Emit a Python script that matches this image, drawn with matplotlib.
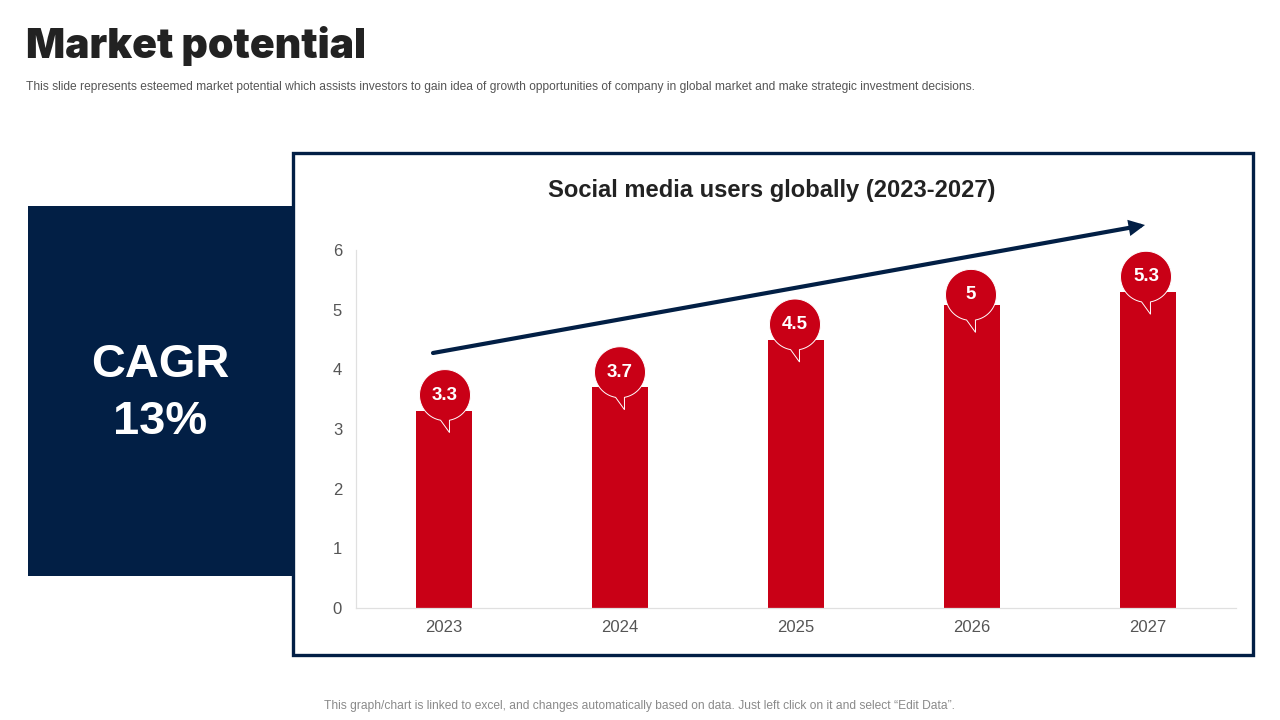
import numpy as np
import matplotlib
matplotlib.use("Agg")
import matplotlib.pyplot as plt
from matplotlib.patches import Rectangle, Polygon

plt.rcParams['font.family'] = ['Liberation Sans', 'DejaVu Sans']

years = ["2023", "2024", "2025", "2026", "2027"]
users = [3.3, 3.7, 4.5, 5.08, 5.3]
bubble_labels = ["3.3", "3.7", "4.5", "5", "5.3"]
# bubble centre relative to the bar top centre, in pixels
bubble_lift = [16, 15, 15, 10, 15]
bubble_shift = [1, 0, -1, -1, -2]
yticks = [0, 1, 2, 3, 4, 5, 6]

NAVY = "#021f45"
RED = "#c90016"
W, H = 1280, 720

fig = plt.figure(figsize=(W / 100, H / 100), dpi=100, facecolor="white")

# page layer in pixel coords, y going down
page = fig.add_axes([0, 0, 1, 1], zorder=0)
page.set_xlim(0, W)
page.set_ylim(H, 0)
page.axis("off")

page.text(26, 46.5, "Market potential", fontsize=29.5, family="Inter", weight="black",
          color="#222222", va="center", ha="left")
page.text(26, 87, "This slide represents esteemed market potential which assists investors to gain idea of "
          "growth opportunities of company in global market and make strategic investment decisions.",
          fontsize=8.66, color="#555555", va="center", ha="left")

# CAGR block and chart frame
page.add_patch(Rectangle((28, 206), 266, 370, facecolor=NAVY, edgecolor="none"))
page.add_patch(Rectangle((293, 153), 959.5, 501.5, facecolor="white", edgecolor=NAVY, linewidth=2.4))
page.text(160, 365, "CAGR", fontsize=33.8, weight="bold", color="white", ha="center", va="center")
page.text(160, 422, "13%", fontsize=33.8, weight="bold", color="white", ha="center", va="center")

page.text(772, 191, "Social media users globally (2023-2027)", fontsize=17.15, weight="bold",
          color="#222222", ha="center", va="center")
page.text(640, 706.5, "This graph/chart is linked to excel, and changes automatically based on data. "
          "Just left click on it and select \u201cEdit Data\u201d.",
          fontsize=8.64, color="#8a8a8a", ha="center", va="center")

# the chart itself
ax = fig.add_axes([356 / W, 1 - 608 / H, 880 / W, 358 / H], zorder=1)
ax.patch.set_alpha(0)
x = np.arange(len(years))
ax.bar(x, users, width=0.316, color=RED)
ax.set_xlim(-0.5, 4.5)
ax.set_ylim(0, 6)
ax.set_xticks(x)
ax.set_xticklabels(years)
ax.set_yticks(yticks)
ax.tick_params(length=0, labelsize=12, labelcolor="#555555")
ax.tick_params(axis="x", pad=9)
ax.tick_params(axis="y", pad=10)
for s in ["top", "right"]:
    ax.spines[s].set_visible(False)
for s in ["left", "bottom"]:
    ax.spines[s].set_color("#e0e0e0")
    ax.spines[s].set_linewidth(0.9)

# top layer for bubbles and the trend arrow
top = fig.add_axes([0, 0, 1, 1], zorder=2)
top.set_xlim(0, W)
top.set_ylim(H, 0)
top.axis("off")

top.annotate("", xy=(1145, 225), xytext=(433, 353),
             arrowprops=dict(arrowstyle="-|>,head_length=0.7,head_width=0.35", color=NAVY,
                             lw=3, shrinkA=0, shrinkB=0, joinstyle="miter"))

for i, val in enumerate(users):
    px, py = ax.transData.transform((x[i], val))
    cx = px + bubble_shift[i]
    cy = H - py - bubble_lift[i]
    r = 25.5
    # circle with a small tail pointing down
    ang = np.radians(np.linspace(100, 440, 90))
    pts = [(cx + r * np.cos(a), cy + r * np.sin(a)) for a in ang]
    pts.append((cx + 4.5, cy + 37.5))
    top.add_patch(Polygon(pts, closed=True, facecolor=RED, edgecolor="white", linewidth=0.7, zorder=3))
    top.text(cx, cy, bubble_labels[i], fontsize=13.5, weight="bold", color="white",
             ha="center", va="center", zorder=4)

fig.savefig("out.png", dpi=100)
